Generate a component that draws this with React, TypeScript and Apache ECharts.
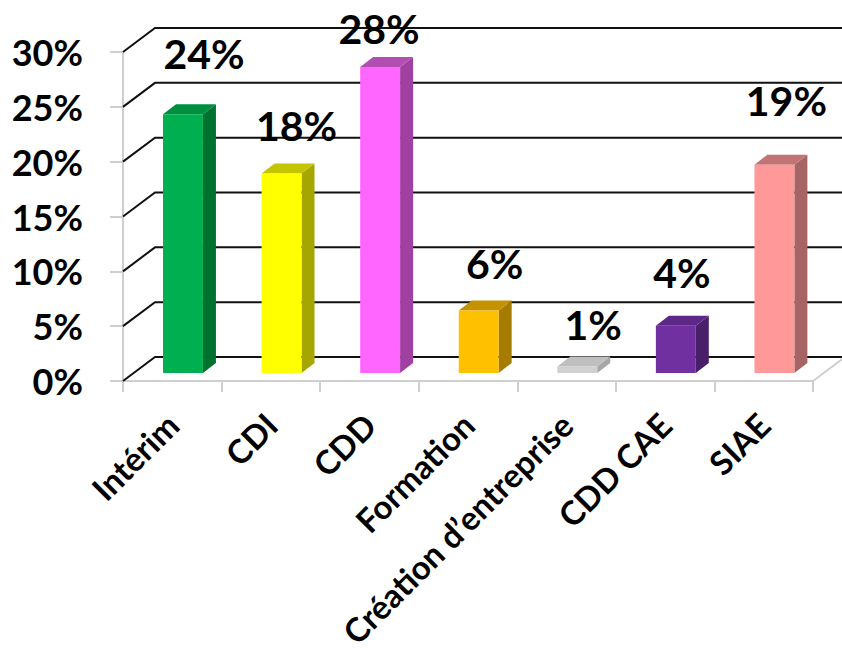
import React, { useEffect, useRef } from "react";
import * as echarts from "echarts";

const categories = [
  "Intérim",
  "CDI",
  "CDD",
  "Formation",
  "Création d’entreprise",
  "CDD CAE",
  "SIAE",
];
const shares = [23.6, 18.2, 27.9, 5.7, 0.6, 4.3, 19.0];
const yTicks = [0, 5, 10, 15, 20, 25, 30];

const frontColors = ["#00B050", "#FFFF00", "#FF66FF", "#FFC000", "#D0D0D0", "#7030A0", "#FF9999"];
const sideColors = ["#00722F", "#A6A600", "#A040A0", "#A67C00", "#A6A6A6", "#4A1F6A", "#A66464"];
const topColors = ["#008F3E", "#C4C400", "#B24DB2", "#C49200", "#BFBFBF", "#5C2787", "#C27474"];

// label nudges relative to bar top (layout only)
const labelNudges = [
  [21, -61],
  [15, -48],
  [-1, -39],
  [16, -47],
  [16, -42],
  [6, -53],
  [12, -64],
];

const FONT = 'Lato, "Open Sans", sans-serif';
// projection offsets
const WALL_DX = 32;
const WALL_DY = -24;
const BAR_FX = 10.7;
const BAR_FY = -8;
const BAR_DX = 13;
const BAR_DY = -10;

export default function App() {
  const ref = useRef<HTMLDivElement>(null);

  useEffect(() => {
    if (!ref.current) return;
    const chart = echarts.init(ref.current, undefined, { renderer: "svg" });

    const option: any = {
      animation: false,
      backgroundColor: "#ffffff",
      textStyle: { fontFamily: FONT },
      grid: { left: 123, top: 52, width: 690, height: 329 },
      xAxis: {
        type: "category",
        data: categories,
        axisLine: { show: true, lineStyle: { color: "#CFCFCF", width: 2 } },
        axisTick: { show: true, length: 11, lineStyle: { color: "#CFCFCF", width: 2 } },
        axisLabel: {
          interval: 0,
          rotate: 45,
          margin: 38,
          fontSize: 33,
          fontWeight: "bold",
          fontFamily: FONT,
          color: "#000",
        },
        splitLine: { show: false },
      },
      yAxis: {
        type: "value",
        min: 0,
        max: 30,
        interval: 5,
        axisLine: { show: true, lineStyle: { color: "#CFCFCF", width: 2 } },
        axisTick: { show: true, length: 13, lineStyle: { color: "#CFCFCF", width: 2 } },
        axisLabel: {
          formatter: "{value}%",
          margin: 40,
          fontSize: 36,
          fontWeight: "bold",
          fontFamily: FONT,
          color: "#000",
        },
        splitLine: { show: false },
      },
      series: [
        {
          type: "custom",
          name: "grid",
          silent: true,
          z: 1,
          data: yTicks.map((v) => [0, v]),
          encode: { x: 0, y: 1 },
          renderItem: (params: any, api: any) => {
            const v = api.value(1);
            const p = api.coord([0, v]);
            const cs = params.coordSys;
            const left = cs.x;
            const right = cs.x + cs.width;
            const y = p[1];
            return {
              type: "polyline",
              shape: {
                points: [
                  [left, y],
                  [left + WALL_DX, y + WALL_DY],
                  [right + WALL_DX + 20, y + WALL_DY],
                ],
              },
              style: { stroke: "#111", lineWidth: 2, fill: "none" },
            };
          },
        },
        {
          type: "custom",
          name: "floor",
          silent: true,
          z: 2,
          data: [[0, 0]],
          encode: { x: 0, y: 1 },
          renderItem: (params: any, api: any) => {
            const p = api.coord([0, 0]);
            const cs = params.coordSys;
            const right = cs.x + cs.width;
            return {
              type: "line",
              shape: { x1: right, y1: p[1], x2: right + WALL_DX, y2: p[1] + WALL_DY },
              style: { stroke: "#CFCFCF", lineWidth: 2 },
            };
          },
        },
        {
          type: "custom",
          name: "Part",
          z: 5,
          data: shares.map((v, i) => [i, v]),
          encode: { x: 0, y: 1 },
          renderItem: (params: any, api: any) => {
            const i = api.value(0);
            const v = api.value(1);
            const base = api.coord([i, 0]);
            const top = api.coord([i, v]);
            const band = api.size([1, 0])[0];
            const w = band * 0.405;
            const cx = base[0] + BAR_FX;
            const x0 = cx - w / 2;
            const x1 = cx + w / 2;
            const yb = base[1] + BAR_FY;
            const yt = top[1] + BAR_FY;
            const nudge = labelNudges[i];
            return {
              type: "group",
              children: [
                {
                  type: "polygon",
                  shape: {
                    points: [
                      [x1, yt],
                      [x1 + BAR_DX, yt + BAR_DY],
                      [x1 + BAR_DX, yb + BAR_DY],
                      [x1, yb],
                    ],
                  },
                  style: { fill: sideColors[i] },
                },
                {
                  type: "polygon",
                  shape: {
                    points: [
                      [x0, yt],
                      [x0 + BAR_DX, yt + BAR_DY],
                      [x1 + BAR_DX, yt + BAR_DY],
                      [x1, yt],
                    ],
                  },
                  style: { fill: topColors[i] },
                },
                {
                  type: "rect",
                  shape: { x: x0, y: yt, width: w, height: yb - yt },
                  style: { fill: frontColors[i] },
                },
                {
                  type: "text",
                  x: cx + nudge[0],
                  y: yt + nudge[1],
                  style: {
                    text: Math.round(v) + "%",
                    font: "bold 41px " + FONT,
                    fill: "#000",
                    align: "center",
                    verticalAlign: "middle",
                  },
                },
              ],
            };
          },
        },
      ],
    };

    chart.setOption(option);
    return () => chart.dispose();
  }, []);

  return (
    <div
      ref={ref}
      style={{ position: "fixed", left: 0, top: 0, width: 842, height: 656, background: "#fff" }}
    />
  );
}
